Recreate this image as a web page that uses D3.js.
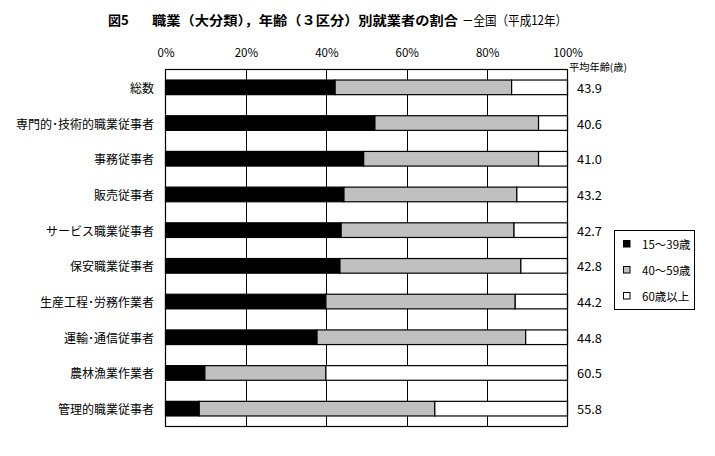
<!DOCTYPE html>
<html><head><meta charset="utf-8">
<script src="https://cdn.jsdelivr.net/npm/d3@7"></script>
<style>
html,body{margin:0;padding:0;background:#fff;}
svg{display:block;font-family:"Noto Sans CJK JP","Noto Sans",sans-serif;}
</style></head>
<body><svg id="c" width="715" height="456"></svg>
<script>
const categories = ["総数","専門的･技術的職業従事者","事務従事者","販売従事者","サービス職業従事者","保安職業従事者","生産工程･労務作業者","運輸･通信従事者","農林漁業作業者","管理的職業従事者"];
const seriesNames = ["15～39歳","40～59歳","60歳以上"];
const young  = [42.2, 52.1, 49.3, 44.4, 43.7, 43.4, 39.9, 37.7, 9.8, 8.4];
const middle = [43.9, 40.7, 43.5, 43.0, 43.0, 45.0, 47.1, 51.9, 30.1, 58.6];
const old    = [13.9, 7.2, 7.2, 12.6, 13.3, 11.6, 13.0, 10.4, 60.1, 33.0];
const avgAge = ["43.9","40.6","41.0","43.2","42.7","42.8","44.2","44.8","60.5","55.8"];
const tickValues = [0,20,40,60,80,100];
const colors = ["#000000","#c0c0c0","#ffffff"];

const svg = d3.select("#c");
const x = d3.scaleLinear().domain([0,100]).range([165.5,567.5]);
const y = d3.scaleBand().domain(categories).range([69.5,426.5]).paddingInner(0.59).paddingOuter(0.295);

// title
svg.append("text").attr("x",108).attr("y",19.5).attr("dominant-baseline","central")
  .attr("font-size",13).attr("font-weight","bold").text("図5");
svg.append("text").attr("x",152).attr("y",19.5).attr("dominant-baseline","central")
  .attr("font-size",13).attr("font-weight","bold")
  .attr("textLength",306).attr("lengthAdjust","spacingAndGlyphs")
  .text("職業（大分類），年齢（３区分）別就業者の割合");
svg.append("text").attr("x",462).attr("y",19.5).attr("dominant-baseline","central")
  .attr("font-size",13)
  .attr("textLength",105).attr("lengthAdjust","spacingAndGlyphs")
  .text("－全国（平成12年）");

// grid (vertical)
svg.append("g").selectAll("line").data(tickValues.slice(1,-1)).join("line")
  .attr("x1",d=>Math.round(x(d))+0.5).attr("x2",d=>Math.round(x(d))+0.5)
  .attr("y1",69.5).attr("y2",426.5).attr("stroke","#000").attr("stroke-width",1);

// top axis labels
const ax = d3.axisTop(x).tickValues(tickValues).tickFormat(d=>d+"%").tickSize(0).tickPadding(0);
const axg = svg.append("g").attr("transform","translate(0,57)").call(ax);
axg.select(".domain").remove();
axg.selectAll("text").attr("font-size",11.5).attr("font-family","'Noto Sans CJK JP',sans-serif").attr("fill","#000").attr("dy",0);

// stacked bars
const rows = categories.map((c,i)=>({cat:c, vals:[young[i],middle[i],old[i]]}));
const stackData = rows.map(r=>{const o={cat:r.cat}; seriesNames.forEach((s,k)=>o[s]=r.vals[k]); return o;});
const stack = d3.stack().keys(seriesNames)(stackData);
svg.append("g").selectAll("g").data(stack).join("g")
  .attr("fill",(d,i)=>colors[i])
  .selectAll("rect").data(d=>d).join("rect")
  .attr("x",d=>x(d[0])).attr("width",d=>x(Math.min(100,d[1]))-x(d[0]))
  .attr("y",d=>y(d.data.cat)).attr("height",y.bandwidth())
  .attr("stroke","#000").attr("stroke-width",1.2);

// plot border
svg.append("rect").attr("x",165.5).attr("y",69.5).attr("width",402).attr("height",357)
  .attr("fill","none").attr("stroke","#000").attr("stroke-width",1.2);

// category labels
svg.append("g").selectAll("text").data(categories).join("text")
  .attr("x",154).attr("y",d=>y(d)+y.bandwidth()/2).attr("text-anchor","end")
  .attr("dominant-baseline","central").attr("font-size",12).text(d=>d);

// average age
svg.append("text").attr("x",569).attr("y",66.5).attr("dominant-baseline","central")
  .attr("font-size",10).attr("textLength",58).attr("lengthAdjust","spacingAndGlyphs").text("平均年齢(歳)");
svg.append("g").selectAll("text").data(avgAge).join("text")
  .attr("x",577).attr("y",(d,i)=>y(categories[i])+y.bandwidth()/2).attr("dominant-baseline","central")
  .attr("font-size",12).attr("textLength",25).attr("lengthAdjust","spacingAndGlyphs").text(d=>d);

// legend
const lg = svg.append("g");
lg.append("rect").attr("x",614.5).attr("y",230.5).attr("width",80).attr("height",79)
  .attr("fill","#fff").attr("stroke","#000").attr("stroke-width",1);
const ly = [244,270,296];
seriesNames.forEach((s,i)=>{
  lg.append("rect").attr("x",623.5).attr("y",ly[i]-3.5).attr("width",6.5).attr("height",6.5)
    .attr("fill",colors[i]).attr("stroke","#000").attr("stroke-width",1);
  lg.append("text").attr("x",642).attr("y",ly[i]).attr("dominant-baseline","central")
    .attr("font-size",11.5).text(s);
});
</script></body></html>
